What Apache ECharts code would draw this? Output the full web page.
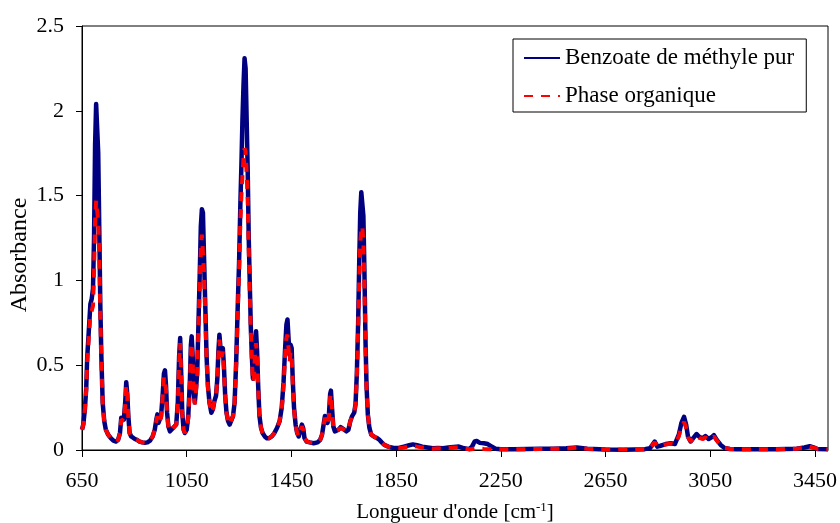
<!DOCTYPE html>
<html>
<head>
<meta charset="utf-8">
<script src="https://cdn.jsdelivr.net/npm/echarts@6/dist/echarts.min.js"></script>
<style>html,body{margin:0;padding:0;background:#fff;}#c{width:840px;height:523px;}</style>
</head>
<body>
<div id="c"></div>
<script>
// Wavenumbers (cm-1)
var wavenumbers = [
 650,655,661,666,670,674,678,682,687,692,
 696,700,704,708,712,716,720,724,729,735,
 741,750,760,770,780,788,795,800,805,810,
 815,819,823,827,832,838,845,852,860,870,
 880,890,900,910,920,928,934,938,942,946,
 952,958,963,967,971,975,980,986,992,998,
 1004,1010,1016,1021,1025,1029,1033,1038,1043,1050,
 1056,1062,1066,1069,1073,1077,1081,1085,1090,1095,
 1100,1104,1108,1112,1116,1121,1126,1131,1137,1144,
 1150,1156,1162,1167,1171,1175,1179,1183,1188,1192,
 1197,1202,1208,1214,1220,1227,1233,1239,1245,1250,
 1255,1259,1263,1267,1271,1275,1279,1283,1287,1291,
 1295,1299,1303,1307,1311,1315,1319,1323,1328,1334,
 1340,1348,1356,1365,1375,1385,1395,1405,1413,1420,
 1426,1431,1435,1439,1443,1447,1451,1455,1460,1466,
 1472,1478,1484,1490,1495,1500,1508,1520,1535,1550,
 1560,1567,1573,1578,1583,1588,1593,1598,1601,1605,
 1610,1616,1622,1630,1638,1645,1652,1660,1668,1675,
 1682,1690,1695,1700,1705,1709,1713,1717,1721,1725,
 1729,1733,1737,1742,1748,1755,1762,1770,1778,1786,
 1795,1805,1820,1840,1860,1880,1900,1914,1930,1950,
 1970,1990,2010,2030,2050,2070,2090,2110,2130,2140,
 2150,2158,2170,2185,2200,2215,2230,2250,2300,2350,
 2400,2450,2500,2540,2580,2650,2720,2800,2820,2838,
 2848,2860,2880,2900,2915,2930,2940,2950,2958,2965,
 2975,2985,2998,3010,3022,3032,3044,3055,3064,3075,
 3090,3105,3125,3150,3200,3300,3380,3410,3430,3445,
 3460,3500
];
// Benzoate de méthyle pur (absorbance)
var benzoate = [
 0.12,0.15,0.24,0.36,0.55,0.65,0.66,0.86,0.89,0.95,
 1.25,1.80,2.04,2.03,1.75,1.30,0.85,0.55,0.28,0.17,
 0.12,0.09,0.07,0.055,0.05,0.06,0.10,0.19,0.20,0.18,
 0.28,0.40,0.33,0.20,0.10,0.08,0.08,0.065,0.06,0.05,
 0.045,0.043,0.045,0.055,0.08,0.12,0.18,0.21,0.16,0.15,
 0.20,0.32,0.45,0.47,0.38,0.22,0.14,0.11,0.10,0.13,
 0.14,0.15,0.28,0.55,0.66,0.45,0.22,0.12,0.10,0.12,
 0.20,0.40,0.62,0.67,0.55,0.34,0.28,0.35,0.45,0.75,
 1.05,1.32,1.42,1.40,1.15,0.85,0.55,0.38,0.28,0.22,
 0.24,0.29,0.32,0.42,0.58,0.68,0.60,0.57,0.60,0.50,
 0.32,0.22,0.17,0.15,0.16,0.20,0.28,0.52,0.85,1.10,
 1.45,1.68,1.95,2.15,2.31,2.25,1.95,1.65,1.25,0.98,
 0.72,0.55,0.42,0.45,0.60,0.70,0.58,0.38,0.20,0.13,
 0.10,0.08,0.07,0.07,0.08,0.10,0.13,0.17,0.25,0.40,
 0.60,0.74,0.77,0.66,0.56,0.62,0.60,0.42,0.25,0.15,
 0.10,0.08,0.09,0.15,0.13,0.07,0.05,0.045,0.04,0.045,
 0.06,0.09,0.15,0.20,0.19,0.16,0.20,0.33,0.35,0.25,
 0.14,0.11,0.10,0.12,0.135,0.13,0.12,0.11,0.12,0.17,
 0.20,0.22,0.27,0.45,0.75,1.10,1.40,1.52,1.53,1.38,
 1.05,0.65,0.38,0.21,0.13,0.09,0.08,0.075,0.07,0.06,
 0.045,0.03,0.02,0.012,0.012,0.02,0.028,0.033,0.028,0.02,
 0.015,0.01,0.012,0.01,0.015,0.018,0.02,0.01,0.005,0.02,
 0.05,0.053,0.042,0.04,0.035,0.02,0.008,0.005,0.005,0.006,
 0.007,0.008,0.01,0.015,0.008,0.003,0.002,0.005,0.01,0.05,
 0.02,0.025,0.035,0.04,0.035,0.09,0.16,0.195,0.15,0.08,
 0.05,0.07,0.094,0.075,0.07,0.082,0.065,0.075,0.088,0.06,
 0.03,0.012,0.006,0.005,0.005,0.005,0.008,0.015,0.022,0.015,
 0.006,0.005
];
// Phase organique (absorbance)
var phaseOrganique = [
 0.12,0.15,0.24,0.35,0.53,0.62,0.63,0.80,0.82,0.85,
 1.05,1.35,1.47,1.46,1.35,1.15,0.80,0.53,0.28,0.17,
 0.12,0.09,0.07,0.055,0.05,0.06,0.10,0.18,0.19,0.17,
 0.27,0.38,0.32,0.19,0.10,0.08,0.08,0.065,0.06,0.05,
 0.045,0.043,0.045,0.055,0.08,0.12,0.17,0.20,0.16,0.15,
 0.19,0.31,0.43,0.44,0.36,0.21,0.14,0.11,0.10,0.13,
 0.14,0.15,0.27,0.52,0.63,0.43,0.21,0.12,0.10,0.12,
 0.19,0.38,0.59,0.63,0.52,0.33,0.27,0.34,0.44,0.72,
 0.98,1.18,1.27,1.26,1.05,0.80,0.53,0.37,0.28,0.22,
 0.24,0.29,0.32,0.41,0.56,0.65,0.58,0.55,0.58,0.48,
 0.31,0.22,0.17,0.15,0.16,0.20,0.28,0.50,0.82,1.05,
 1.35,1.50,1.62,1.72,1.78,1.76,1.63,1.48,1.18,0.94,
 0.70,0.53,0.40,0.43,0.57,0.63,0.55,0.37,0.20,0.13,
 0.10,0.08,0.07,0.07,0.08,0.10,0.13,0.17,0.24,0.38,
 0.56,0.66,0.68,0.60,0.52,0.58,0.56,0.40,0.24,0.15,
 0.10,0.08,0.09,0.14,0.12,0.07,0.05,0.045,0.04,0.045,
 0.06,0.09,0.14,0.19,0.18,0.15,0.19,0.31,0.33,0.24,
 0.14,0.11,0.10,0.12,0.13,0.13,0.12,0.11,0.12,0.17,
 0.20,0.22,0.27,0.44,0.72,1.00,1.22,1.30,1.32,1.22,
 0.98,0.62,0.37,0.21,0.13,0.09,0.08,0.075,0.07,0.06,
 0.045,0.03,0.02,0.01,0.01,0.015,0.022,0.025,0.02,0.015,
 0.01,0.008,0.01,0.008,0.012,0.015,0.015,0.008,0.004,0.005,
 0.01,0.01,0.008,0.006,0.005,0.005,0.003,0.004,0.004,0.005,
 0.006,0.007,0.009,0.013,0.007,0.003,0.002,0.005,0.01,0.045,
 0.02,0.025,0.033,0.038,0.033,0.08,0.14,0.165,0.13,0.075,
 0.05,0.065,0.085,0.07,0.065,0.075,0.06,0.07,0.08,0.056,
 0.028,0.012,0.006,0.005,0.005,0.005,0.008,0.014,0.02,0.014,
 0.006,0.005
];
var xTickLabels = [650,1050,1450,1850,2250,2650,3050,3450];
var yTickLabels = [0,0.5,1,1.5,2,2.5];
var seriesNames = ['Benzoate de méthyle pur','Phase organique'];

function pairs(ys){ return wavenumbers.map(function(x,i){ return [x, ys[i]]; }); }

var FONT = '"Liberation Serif","Times New Roman",serif';
var chart = echarts.init(document.getElementById('c'), null, {renderer:'canvas'});
chart.setOption({
  animation: false,
  backgroundColor: '#fff',
  textStyle: {fontFamily: FONT, color: '#000'},
  grid: {left: 82, right: 12, top: 26, bottom: 73, show: true, borderColor: '#000', borderWidth: 1, containLabel: false, outerBoundsMode: 'none'},
  legend: {
    left: 513, top: 39, orient: 'vertical',
    backgroundColor: '#fff', borderColor: '#000', borderWidth: 1,
    padding: [7, 12, 4, 10], itemGap: 14, itemWidth: 36, itemHeight: 14,
    itemStyle: {opacity: 0},
    textStyle: {fontFamily: FONT, fontSize: 23, color: '#000', lineHeight: 24},
    data: seriesNames
  },
  xAxis: {
    type: 'value', min: 650, max: 3500,
    name: "Longueur d'onde [cm{sup|-1}]",
    nameLocation: 'middle', nameGap: 51, nameMoveOverlap: false,
    nameTextStyle: {fontFamily: FONT, fontSize: 21, color: '#000',
      rich: {sup: {fontFamily: FONT, fontSize: 13, color: '#000', verticalAlign: 'top', padding: [0,0,10,0]}}},
    axisLine: {show: true, lineStyle: {color: '#000', width: 1}},
    axisTick: {show: true, length: 7, lineStyle: {color: '#000'}, customValues: xTickLabels},
    axisLabel: {fontFamily: FONT, fontSize: 22, color: '#000', margin: 20, customValues: xTickLabels,
      formatter: function(v){ return String(v); }},
    splitLine: {show: false}
  },
  yAxis: {
    type: 'value', min: 0, max: 2.5, interval: 0.5,
    name: 'Absorbance', nameLocation: 'middle', nameGap: 50, nameRotate: 90, nameMoveOverlap: false,
    nameTextStyle: {fontFamily: FONT, fontSize: 24, color: '#000', padding: [0, 34, 0, 0]},
    axisLine: {show: true, lineStyle: {color: '#000', width: 1}},
    axisTick: {show: true, length: 6, lineStyle: {color: '#000'}},
    axisLabel: {fontFamily: FONT, fontSize: 22, color: '#000', margin: 18,
      customValues: yTickLabels, formatter: function(v){ return String(v); }},
    splitLine: {show: false}
  },
  series: [
    {name: seriesNames[0], type: 'line', data: pairs(benzoate), symbol: 'none', showSymbol: false,
     lineStyle: {color: '#000080', width: 4.5, join: 'round'}, itemStyle: {color: '#000080'}, z: 2},
    {name: seriesNames[1], type: 'line', data: pairs(phaseOrganique), symbol: 'none', showSymbol: false,
     lineStyle: {color: '#ff0000', width: 4, type: [9, 8], cap: 'butt'}, itemStyle: {color: '#ff0000'}, z: 3}
  ]
});
</script>
</body>
</html>
